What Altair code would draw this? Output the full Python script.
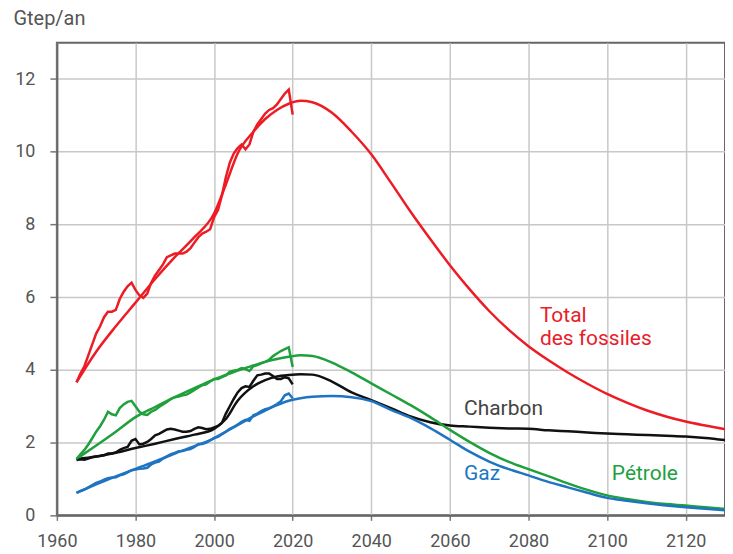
import altair as alt
import pandas as pd

# ---------------- data ----------------
hist_years = list(range(1965, 2021))
total_hist = [3.66, 3.9, 4.1, 4.4, 4.7, 5.0, 5.2, 5.45, 5.6, 5.6, 5.65, 5.95, 6.15, 6.3, 6.4,
              6.2, 6.05, 5.98, 6.1, 6.4, 6.6, 6.75, 6.9, 7.1, 7.15, 7.2, 7.2, 7.2, 7.25, 7.35,
              7.5, 7.65, 7.75, 7.8, 7.87, 8.2, 8.4, 8.8, 9.3, 9.7, 9.95, 10.1, 10.2, 10.07, 10.2,
              10.55, 10.75, 10.9, 11.05, 11.15, 11.2, 11.3, 11.45, 11.6, 11.71, 11.02]
coal_hist = [1.52, 1.54, 1.53, 1.56, 1.6, 1.62, 1.63, 1.65, 1.7, 1.7, 1.73, 1.8, 1.85, 1.88, 2.05,
             2.1, 1.95, 1.97, 2.02, 2.1, 2.2, 2.24, 2.3, 2.36, 2.38, 2.36, 2.33, 2.3, 2.3, 2.32,
             2.38, 2.42, 2.4, 2.37, 2.38, 2.42, 2.46, 2.55, 2.8, 3.0, 3.2, 3.38, 3.5, 3.55, 3.53,
             3.7, 3.85, 3.87, 3.9, 3.9, 3.83, 3.75, 3.75, 3.8, 3.77, 3.6]
oil_hist = [1.55, 1.68, 1.8, 1.95, 2.12, 2.3, 2.45, 2.63, 2.85, 2.78, 2.75, 2.95, 3.05, 3.12, 3.15,
            3.0, 2.85, 2.78, 2.76, 2.85, 2.9, 2.98, 3.05, 3.12, 3.2, 3.25, 3.27, 3.3, 3.32, 3.38,
            3.45, 3.52, 3.58, 3.6, 3.68, 3.75, 3.75, 3.8, 3.85, 3.95, 3.98, 4.0, 4.05, 4.02, 3.97,
            4.1, 4.13, 4.18, 4.22, 4.28, 4.38, 4.45, 4.52, 4.57, 4.62, 4.08]
gas_hist = [0.62, 0.67, 0.71, 0.77, 0.83, 0.89, 0.93, 0.98, 1.02, 1.04, 1.05, 1.1, 1.13, 1.18, 1.24,
            1.26, 1.28, 1.29, 1.31, 1.4, 1.45, 1.48, 1.56, 1.62, 1.68, 1.72, 1.76, 1.77, 1.8, 1.82,
            1.88, 1.96, 1.96, 2.0, 2.06, 2.13, 2.16, 2.23, 2.3, 2.38, 2.43, 2.5, 2.57, 2.63, 2.6,
            2.75, 2.8, 2.87, 2.92, 2.95, 3.0, 3.06, 3.14, 3.3, 3.35, 3.22]

model_years = [1965, 1970, 1975, 1980, 1985, 1990, 1995, 2000, 2003, 2006, 2010, 2013, 2016, 2019,
               2022, 2025, 2030, 2035, 2040, 2045, 2050, 2055, 2060, 2065, 2070, 2075, 2080, 2085,
               2090, 2095, 2100, 2105, 2110, 2115, 2120, 2125, 2130]
total_model = [3.66, 4.5, 5.2, 5.85, 6.5, 7.1, 7.65, 8.3, 9.1, 9.95, 10.55, 10.9, 11.15, 11.32,
               11.4, 11.36, 11.07, 10.55, 9.93, 9.15, 8.35, 7.6, 6.88, 6.22, 5.62, 5.1, 4.65, 4.27,
               3.93, 3.62, 3.34, 3.1, 2.89, 2.72, 2.58, 2.47, 2.37]
coal_model = [1.55, 1.62, 1.72, 1.85, 1.97, 2.1, 2.22, 2.38, 2.65, 3.15, 3.55, 3.72, 3.82, 3.86,
              3.88, 3.87, 3.68, 3.38, 3.17, 2.95, 2.72, 2.56, 2.47, 2.44, 2.41, 2.39, 2.38, 2.34,
              2.31, 2.28, 2.25, 2.23, 2.21, 2.19, 2.17, 2.13, 2.07]
oil_model = [1.55, 1.92, 2.3, 2.7, 2.98, 3.25, 3.5, 3.74, 3.86, 3.98, 4.12, 4.22, 4.3, 4.36,
             4.4, 4.38, 4.2, 3.93, 3.63, 3.33, 3.03, 2.7, 2.35, 2.02, 1.72, 1.47, 1.27, 1.08,
             0.88, 0.7, 0.55, 0.45, 0.37, 0.31, 0.27, 0.22, 0.18]
gas_model = [0.62, 0.85, 1.07, 1.28, 1.48, 1.7, 1.9, 2.12, 2.3, 2.48, 2.72, 2.88, 3.03, 3.15,
             3.22, 3.26, 3.28, 3.25, 3.14, 2.9, 2.68, 2.4, 2.08, 1.75, 1.48, 1.27, 1.1, 0.92,
             0.77, 0.62, 0.48, 0.4, 0.33, 0.27, 0.22, 0.18, 0.14]

fuels = ["total", "coal", "oil", "gas"]
fuel_colors = ["#ed1c24", "#111111", "#1fa03c", "#1f74c2"]

label_texts = ["Total", "des fossiles", "Charbon", "Gaz", "Pétrole"]
label_years = [2082.9, 2082.9, 2063.6, 2063.6, 2101.2]
label_values = [5.32, 4.68, 2.76, 0.98, 0.98]
label_colors = ["#e8202a", "#e8202a", "#444444", "#1a78c2", "#22a03f"]

x_ticks = [1960, 1980, 2000, 2020, 2040, 2060, 2080, 2100, 2120]
y_ticks = [0, 2, 4, 6, 8, 10, 12]

# ---------------- tables ----------------
hist_rows = []
for f, vals in zip(fuels, [total_hist, coal_hist, oil_hist, gas_hist]):
    hist_rows += [{"year": yr, "value": v, "fuel": f} for yr, v in zip(hist_years, vals)]
hist_df = pd.DataFrame(hist_rows)

model_rows = []
for f, vals in zip(fuels, [total_model, coal_model, oil_model, gas_model]):
    model_rows += [{"year": yr, "value": v, "fuel": f} for yr, v in zip(model_years, vals)]
model_df = pd.DataFrame(model_rows)

label_df = pd.DataFrame({"year": label_years, "value": label_values,
                         "text": label_texts, "color": label_colors})

# ---------------- encodings ----------------
x = alt.X("year:Q", scale=alt.Scale(domain=[1960, 2130], nice=False, zero=False),
          axis=alt.Axis(values=x_ticks, format="d", title=None, tickSize=5, labelPadding=12,
                        labelFlush=False))
y = alt.Y("value:Q", scale=alt.Scale(domain=[0, 13], nice=False),
          axis=alt.Axis(values=y_ticks, title="Gtep/an", titleAngle=0, titleX=-44, titleY=-18,
                        titleAlign="left", titleBaseline="alphabetic", tickSize=7,
                        labelPadding=15))
color = alt.Color("fuel:N", scale=alt.Scale(domain=fuels, range=fuel_colors), legend=None)

model = alt.Chart(model_df).mark_line(strokeWidth=2.5, interpolate="monotone").encode(
    x=x, y=y, color=color, detail="fuel:N")
hist = alt.Chart(hist_df).mark_line(strokeWidth=2.5, interpolate="linear").encode(
    x=x, y=y, color=color, detail="fuel:N")
labels = alt.Chart(label_df).mark_text(align="left", baseline="alphabetic", font="Roboto",
                                       fontSize=21).encode(
    x=x, y=y, text="text:N", color=alt.Color("color:N", scale=None))

chart = alt.layer(model, hist, labels).properties(
    width=670, height=474,
    autosize=alt.AutoSizeParams(type="none"),
    padding={"left": 49, "top": 34, "right": 0, "bottom": 36},
).configure_view(
    stroke="#666666", strokeWidth=2
).configure_axis(
    domainColor="#666666", domainWidth=2, tickColor="#777777", tickWidth=1.5,
    gridColor="#c8c8c8", gridWidth=1.5,
    labelFont="Roboto", labelFontSize=18, labelColor="#555555",
    titleFont="Roboto", titleFontSize=20, titleColor="#555555", titleFontWeight="normal",
)

chart.save("out.html", embed_options={"renderer": "svg", "actions": False})
